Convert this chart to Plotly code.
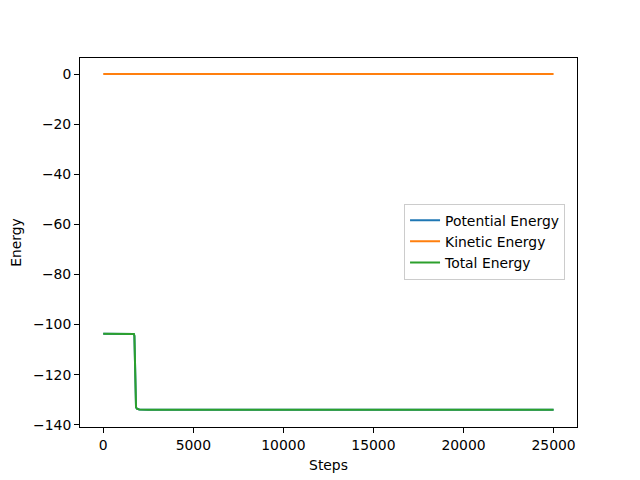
import plotly.graph_objects as go

steps = [0, 500, 1000, 1500, 1700, 1730, 1760, 1790, 1820, 1870, 2000, 2500, 3000, 5000, 7500, 10000, 12500, 15000, 17500, 20000, 22500, 25000]
total_energy = [-103.7, -103.7, -103.7, -103.7, -103.8, -104.5, -115.0, -130.0, -133.0, -133.6, -133.9, -134.0, -134.0, -134.0, -134.0, -134.0, -134.0, -134.0, -134.0, -134.0, -134.0, -134.0]
kinetic_energy = [0.0] * len(steps)
potential_energy = [t - k for t, k in zip(total_energy, kinetic_energy)]

x_ticks = [0, 5000, 10000, 15000, 20000, 25000]
y_ticks = [0, -20, -40, -60, -80, -100, -120, -140]

FONT = "DejaVu Sans"
FS = 13.9
fig = go.Figure()
fig.add_trace(go.Scatter(x=steps, y=potential_energy, mode="lines", name="Potential Energy",
                         line=dict(color="#1f77b4", width=2)))
fig.add_trace(go.Scatter(x=steps, y=kinetic_energy, mode="lines", name="Kinetic Energy",
                         line=dict(color="#ff7f0e", width=2)))
fig.add_trace(go.Scatter(x=steps, y=total_energy, mode="lines", name="Total Energy",
                         line=dict(color="#2ca02c", width=2)))

axis_common = dict(showgrid=False, zeroline=False, showline=True, linecolor="black", linewidth=1,
                   mirror=True, ticks="outside", ticklen=5, tickwidth=1, tickcolor="black",
                   automargin=False,
                   tickfont=dict(family=FONT, size=FS, color="black"))
fig.update_xaxes(range=[-1290, 26300], tickvals=x_ticks, ticktext=[str(v) for v in x_ticks],
                 title=dict(text="Steps", font=dict(family=FONT, size=FS, color="black"), standoff=8),
                 **axis_common)
fig.update_yaxes(range=[-140.9, 6.4], tickvals=y_ticks, ticktext=["\u2212" + str(-v) if v < 0 else str(v) for v in y_ticks],
                 title=dict(text="Energy", font=dict(family=FONT, size=FS, color="black"), standoff=8),
                 **axis_common)
fig.update_layout(
    width=640, height=480,
    margin=dict(l=72, r=71, t=50, b=61),
    plot_bgcolor="white", paper_bgcolor="white",
    legend=dict(x=0.652, y=0.605, xanchor="left", yanchor="top",
                bgcolor="white", bordercolor="#cccccc", borderwidth=1,
                font=dict(family=FONT, size=FS, color="black"), itemwidth=30),
    showlegend=True,
)
fig.write_html("out.html")
